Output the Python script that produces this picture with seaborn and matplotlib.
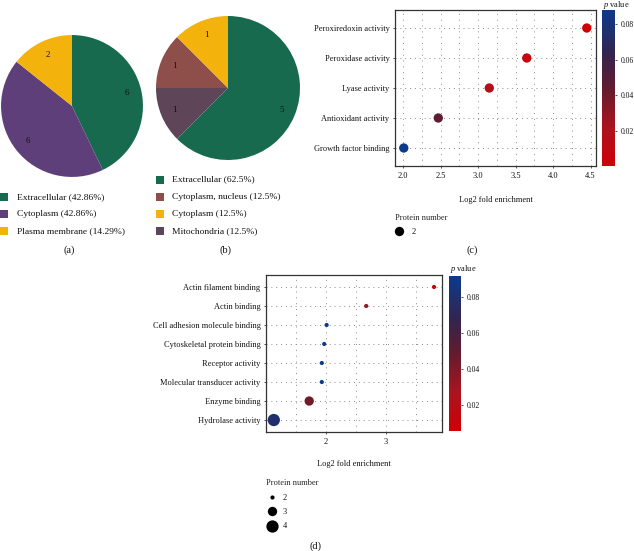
import numpy as np
import pandas as pd
import matplotlib
matplotlib.use("Agg")
import matplotlib.pyplot as plt
import seaborn as sns
from matplotlib.colors import LinearSegmentedColormap, Normalize
from matplotlib.cm import ScalarMappable
from matplotlib.patches import Rectangle
from matplotlib.lines import Line2D

# ---------------- data ----------------
a_labels = ["Extracellular", "Cytoplasm", "Plasma membrane"]
a_counts = [6, 6, 2]
a_pcts = ["42.86%", "42.86%", "14.29%"]
a_colors = ["#176a4e", "#5f3f79", "#f3b20c"]

b_labels = ["Extracellular", "Cytoplasm, nucleus", "Cytoplasm", "Mitochondria"]
b_counts = [5, 1, 1, 1]
b_pcts = ["62.5%", "12.5%", "12.5%", "12.5%"]
b_colors = ["#176a4e", "#8e4f4b", "#f3b20c", "#5f4558"]
b_pie_order = [0, 3, 1, 2]  # clockwise from 12 o'clock

c_terms = ["Peroxiredoxin activity", "Peroxidase activity", "Lyase activity",
           "Antioxidant activity", "Growth factor binding"]
c_fold = [4.45, 3.65, 3.15, 2.47, 2.01]
c_p = [0.0003, 0.005, 0.017, 0.045, 0.088]
c_n = [2, 2, 2, 2, 2]

d_terms = ["Actin filament binding", "Actin binding", "Cell adhesion molecule binding",
           "Cytoskeletal protein binding", "Receptor activity",
           "Molecular transducer activity", "Enzyme binding", "Hydrolase activity"]
d_fold = [3.80, 2.67, 2.01, 1.97, 1.93, 1.93, 1.72, 1.13]
d_p = [0.0056, 0.034, 0.0917, 0.0917, 0.0917, 0.0917, 0.044, 0.079]
d_n = [2, 2, 2, 2, 2, 2, 3, 4]

cb_ticks = [0.02, 0.04, 0.06, 0.08]

# ---------------- style ----------------
sns.set_style("white")
plt.rcParams["font.family"] = ["Liberation Serif", "DejaVu Serif"]
plt.rcParams["mathtext.fontset"] = "custom"
plt.rcParams["mathtext.it"] = "Liberation Serif:italic"
plt.rcParams["mathtext.rm"] = "Liberation Serif"
TXT = "#111111"

W, H = 634, 551
fig = plt.figure(figsize=(W / 100, H / 100), dpi=100)


def rect(x0, y0, w, h):
    return [x0 / W, 1 - (y0 + h) / H, w / W, h / H]


def fx(x):
    return x / W


def fy(y):
    return 1 - y / H


cmap = LinearSegmentedColormap.from_list(
    "pval", [(0.0, "#cf0006"), (0.25, "#aa1420"), (0.5, "#621c2d"),
             (0.72, "#33244f"), (1.0, "#0c3a8c")])


# ---------------- pies ----------------
def pie_panel(ax, counts, colors):
    total = sum(counts)
    ax.pie(counts, colors=colors, startangle=90, counterclock=False,
           autopct=lambda pct: f"{round(pct * total / 100)}", pctdistance=0.8,
           wedgeprops=dict(linewidth=0),
           textprops=dict(fontsize=6.5, color=TXT))
    ax.set_xlim(-1.05, 1.05)
    ax.set_ylim(-1.05, 1.05)
    ax.set_aspect("equal")
    ax.axis("off")


R = 74.5
ax_a = fig.add_axes(rect(72 - R, 106 - R, 2 * R, 2 * R))
pie_panel(ax_a, a_counts, a_colors)

R2 = 75.6
ax_b = fig.add_axes(rect(228 - R2, 88 - R2, 2 * R2, 2 * R2))
pie_panel(ax_b, [b_counts[i] for i in b_pie_order], [b_colors[i] for i in b_pie_order])


def square_legend(x_sq, x_txt, y_rows, labels, pcts, colors):
    for yy, lab, pc, col in zip(y_rows, labels, pcts, colors):
        fig.add_artist(Rectangle((fx(x_sq), fy(yy + 4)), 8 / W, 8 / H,
                                 transform=fig.transFigure, color=col, lw=0))
        fig.text(fx(x_txt), fy(yy), f"{lab} ({pc})", fontsize=6.8, color=TXT,
                 va="center", ha="left")


square_legend(0, 17, [196.7, 213.5, 230.7], a_labels, a_pcts, a_colors)
square_legend(156, 172.3, [179.5, 196.7, 213.5, 230.7], b_labels, b_pcts, b_colors)

fig.text(fx(69), fy(250), "(a)", fontsize=7.5, color=TXT, ha="center", va="center")
fig.text(fx(225), fy(250), "(b)", fontsize=7.5, color=TXT, ha="center", va="center")
fig.text(fx(472), fy(250), "(c)", fontsize=7.5, color=TXT, ha="center", va="center")
fig.text(fx(315), fy(546), "(d)", fontsize=7.5, color=TXT, ha="center", va="center")


# ---------------- dot plots ----------------
def dot_panel(ax, cax, terms, fold, p, n, sizes, xlim, ylim, major, minor, labelpad):
    df = pd.DataFrame({"term": terms, "fold": fold, "p": p, "n": n})
    norm = Normalize(min(p), max(p))
    sns.scatterplot(data=df, x="fold", y="term", hue="p", palette=cmap, hue_norm=norm,
                    size="n", sizes=sizes, legend=False, linewidth=0, ax=ax, zorder=3)
    ax.set_xlim(*xlim)
    ax.set_ylim(*ylim)
    ax.set_xticks(major)
    ax.set_xticks(minor, minor=True)
    ax.grid(which="both", axis="x", linestyle=(0, (1, 5)), color="#8a8a8a", lw=0.7)
    ax.grid(which="major", axis="y", linestyle=(0, (1, 4)), color="#8a8a8a", lw=0.7)
    ax.set_axisbelow(True)
    for s in ax.spines.values():
        s.set_color("#333333")
        s.set_linewidth(0.9)
    ax.tick_params(which="major", length=1.5, width=0.6, color="#333333",
                   labelsize=6, pad=2.5, labelcolor=TXT, bottom=True, left=True)
    ax.tick_params(which="minor", length=0)
    ax.set_ylabel("")
    ax.set_xlabel("Log2 fold enrichment", fontsize=6, color=TXT, labelpad=labelpad)
    cb = fig.colorbar(ScalarMappable(norm=norm, cmap=cmap), cax=cax)
    cb.outline.set_visible(False)
    cb.set_ticks(cb_ticks)
    cb.set_ticklabels([f"{t:.2f}" for t in cb_ticks])
    cax.tick_params(length=1.5, width=0.6, color="#333333", labelsize=5.5,
                    pad=2.5, labelcolor=TXT)


def size_legend(x0, y0, sizes, handlelength, handletextpad):
    keys = list(sizes.keys())
    handles = [Line2D([0], [0], marker="o", ls="", color="black",
                      markeredgewidth=0, markersize=np.sqrt(sizes[k])) for k in keys]
    fig.legend(handles=handles, labels=[str(k) for k in keys], title="Protein number",
               loc="upper left", bbox_to_anchor=(fx(x0), fy(y0)), frameon=False,
               borderpad=0, borderaxespad=0, fontsize=6, title_fontsize=6,
               handlelength=handlelength, handletextpad=handletextpad,
               labelspacing=0.78, alignment="left", labelcolor=TXT)


# panel (c)
ax_c = fig.add_axes(rect(395, 10, 201, 156))
cax_c = fig.add_axes(rect(602, 10, 13, 156))
c_sizes = {2: 45}
dot_panel(ax_c, cax_c, c_terms, c_fold, c_p, c_n, c_sizes,
          (1.893, 4.573), (4.6, -0.6),
          [2.0, 2.5, 3.0, 3.5, 4.0, 4.5], [2.25, 2.75, 3.25, 3.75, 4.25],
          labelpad=11.5)
fig.text(fx(603), fy(5), "$p$ value", fontsize=6, color=TXT, ha="left", va="center")
size_legend(395, 213.5, c_sizes, 1.0, 1.0)

# panel (d)
ax_d = fig.add_axes(rect(266, 275, 176, 157))
cax_d = fig.add_axes(rect(449, 276, 12, 155))
d_sizes = {2: 9, 3: 45, 4: 78}
dot_panel(ax_d, cax_d, d_terms, d_fold, d_p, d_n, d_sizes,
          (1.0, 3.933), (7.63, -0.63),
          [2, 3], [1.5, 2.5, 3.5],
          labelpad=10.5)
fig.text(fx(450), fy(269), "$p$ value", fontsize=6, color=TXT, ha="left", va="center")
size_legend(266, 479, d_sizes, 1.44, 0.6)

fig.savefig("out.png", dpi=100)
